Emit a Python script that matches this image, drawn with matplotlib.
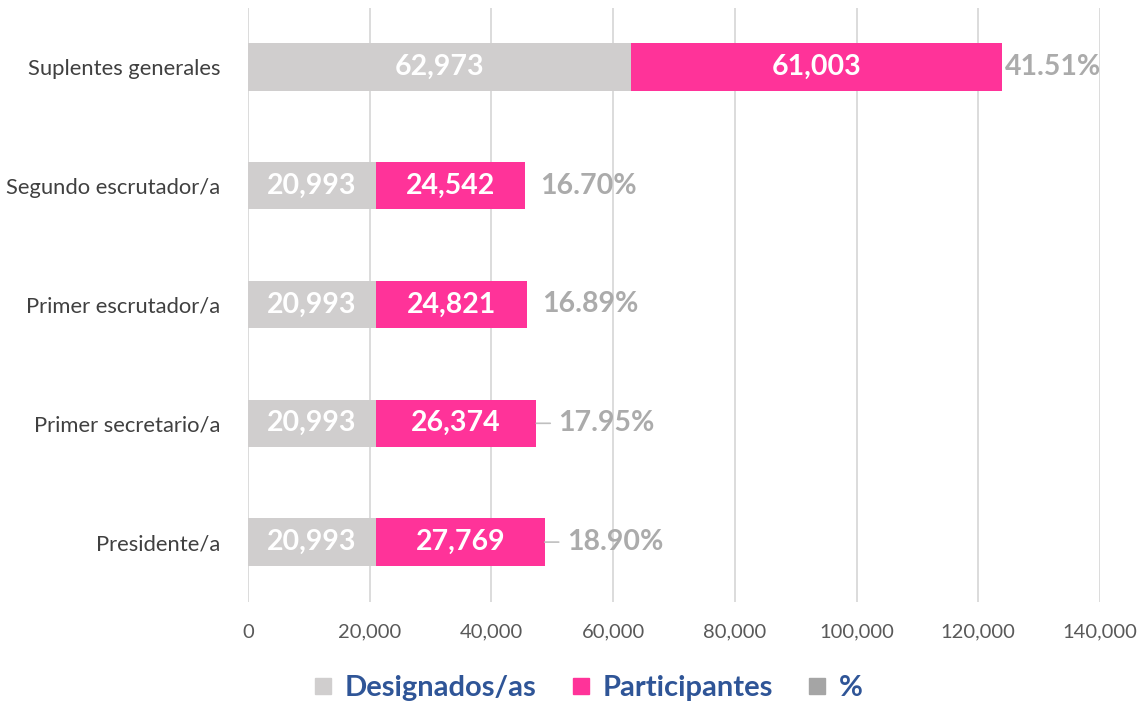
import matplotlib.pyplot as plt
from matplotlib.lines import Line2D

plt.rcParams['font.family'] = ['Lato', 'DejaVu Sans']

categories = ['Presidente/a', 'Primer secretario/a', 'Primer escrutador/a',
              'Segundo escrutador/a', 'Suplentes generales']
designados = [20993, 20993, 20993, 20993, 62973]
participantes = [27769, 26374, 24821, 24542, 61003]
porcentaje = [18.90, 17.95, 16.89, 16.70, 41.51]
xticks = [0, 20000, 40000, 60000, 80000, 100000, 120000, 140000]

c_des = '#D0CECE'
c_par = '#FF3399'
c_pct = '#A5A5A5'
c_pct_txt = '#ABABAB'

fig = plt.figure(figsize=(11.44, 7.05), dpi=100)
ax = fig.add_axes([248 / 1144, 103.5 / 705, 852 / 1144, 594 / 705])

y = list(range(len(categories)))
ax.barh(y, designados, height=0.4, color=c_des, zorder=3)
ax.barh(y, participantes, left=designados, height=0.4, color=c_par, zorder=3)

for i in y:
    ax.text(designados[i] / 2, i, f'{designados[i]:,}', ha='center', va='center',
            color='white', fontsize=20.5, fontweight='bold', zorder=4)
    ax.text(designados[i] + participantes[i] / 2, i, f'{participantes[i]:,}',
            ha='center', va='center', color='white', fontsize=20.5,
            fontweight='bold', zorder=4)

# % labels placed after the bar end, leader lines on the two lower ones
offsets = [22, 22, 15, 15, 2]
for i in y:
    end = designados[i] + participantes[i]
    ax.annotate(f'{porcentaje[i]:.2f}%', xy=(end, i), xytext=(offsets[i], 0),
                textcoords='offset pixels', ha='left', va='center',
                color=c_pct_txt, fontsize=20.5, fontweight='bold', zorder=4)
    if offsets[i] > 20:
        ax.annotate('', xy=(end, i), xytext=(offsets[i] - 8, 0),
                    textcoords='offset pixels',
                    arrowprops=dict(arrowstyle='-', color='#BFBFBF', lw=1.2,
                                    shrinkA=0, shrinkB=0))

ax.set_xlim(0, 140000)
ax.set_ylim(-0.5, 4.5)
ax.set_xticks(xticks)
ax.set_xticklabels([f'{v:,}' for v in xticks])
ax.set_yticks(y)
ax.set_yticklabels(categories)
ax.tick_params(axis='x', length=0, pad=16, labelsize=14.5, labelcolor='#595959')
ax.tick_params(axis='y', length=0, pad=20, labelsize=15.8, labelcolor='#404040')
ax.grid(axis='x', color='#D9D9D9', lw=1.3, zorder=0)
for s in ax.spines.values():
    s.set_visible(False)

handles = [Line2D([], [], marker='s', ls='', color=c, markersize=12)
           for c in (c_des, c_par, c_pct)]
leg = fig.legend(handles, ['Designados/as', 'Participantes', '%'],
                 loc='center', bbox_to_anchor=(0.513, 17 / 705), ncol=3,
                 frameon=False, handlelength=0.8, handletextpad=0.35,
                 columnspacing=1.1,
                 prop={'size': 21, 'weight': 'bold'}, labelcolor='#2F5597')

fig.savefig('out.png', dpi=100)
